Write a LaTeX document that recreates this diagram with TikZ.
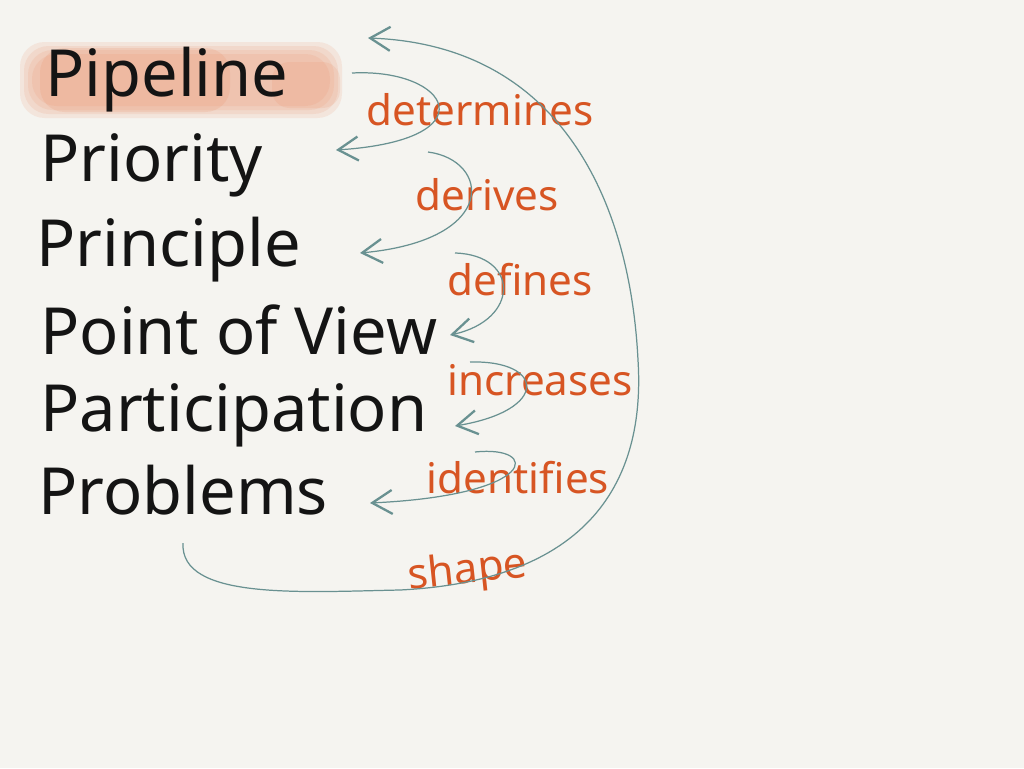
\documentclass[tikz,border=0pt]{standalone}
\usepackage{fontspec}
\setmainfont{Noto Sans}
\usepackage{xcolor}
\usetikzlibrary{arrows.meta}
\definecolor{paper}{RGB}{245,244,240}
\definecolor{ink}{RGB}{20,20,20}
\definecolor{rust}{RGB}{215,85,35}
\definecolor{teal}{RGB}{105,145,145}
\definecolor{wash}{RGB}{234,140,100}

\begin{document}
\begin{tikzpicture}[x=0.02cm,y=-0.02cm,
  word/.style={anchor=west,inner sep=0pt,text=ink,font=\fontsize{37}{44}\selectfont},
  verb/.style={inner sep=0pt,text=rust,font=\fontsize{24}{28}\selectfont},
  link/.style={teal,line width=0.7pt,-{Straight Barb[length=4mm,width=4.8mm,line width=1.3pt]}}]
  \useasboundingbox[fill=paper] (0,0) rectangle (1024,768);
  % highlight behind Pipeline
  \foreach \d in {0,4,8,12}
    \fill[wash,opacity=0.14,rounded corners=14pt] (20+\d,42+\d) rectangle (342-\d,118-\d);
  \fill[wash,opacity=0.18,rounded corners=14pt] (40,48) rectangle (230,112);
  \fill[wash,opacity=0.15,rounded corners=10pt] (272,62) rectangle (340,108);
  % words
  \node[word] (pipeline) at (45,80) {Pipeline};
  \node[word] (priority) at (40,165) {Priority};
  \node[word] (principle) at (36,250) {Principle};
  \node[word] (pov) at (40,330) {Point of View};
  \node[word] (participation) at (40,415) {Participation};
  \node[word] (problems) at (38,490) {Problems};
  % verbs
  \node[verb] (determines) at (480,110) {determines};
  \node[verb] (derives) at (487,195) {derives};
  \node[verb] (defines) at (520,280) {defines};
  \node[verb] (increases) at (540,380) {increases};
  \node[verb] (identifies) at (518,478) {identifies};
  \node[verb,rotate=6] (shape) at (468,572) {shape};
  % loose ends of the links
  \coordinate (from1) at (352,73);
  \coordinate (from2) at (428,152);
  \coordinate (from3) at (455,253);
  \coordinate (from4) at (470,362);
  \coordinate (from5) at (475,452);
  \coordinate (from6) at (183,543);
  \coordinate (to1) at (336,150);
  \coordinate (to2) at (360,253);
  \coordinate (to3) at (450,335);
  \coordinate (to4) at (455,426);
  \coordinate (to5) at (370,503);
  \coordinate (to6) at (368,38);
  % links
  \draw[link] (from1) .. controls (450,68) and (490,140) .. (to1);
  \draw[link] (from2) .. controls (490,160) and (500,240) .. (to2);
  \draw[link] (from3) .. controls (520,255) and (520,320) .. (to3);
  \draw[link] (from4) .. controls (545,360) and (550,410) .. (to4);
  \draw[link] (from5) .. controls (540,445) and (540,495) .. (to5);
  \draw[link] (from6) .. controls (180,600) and (300,592) .. (400,590)
    .. controls (600,580) and (645,470) .. (638,360)
    .. controls (630,200) and (560,45) .. (to6);
\end{tikzpicture}
\end{document}
